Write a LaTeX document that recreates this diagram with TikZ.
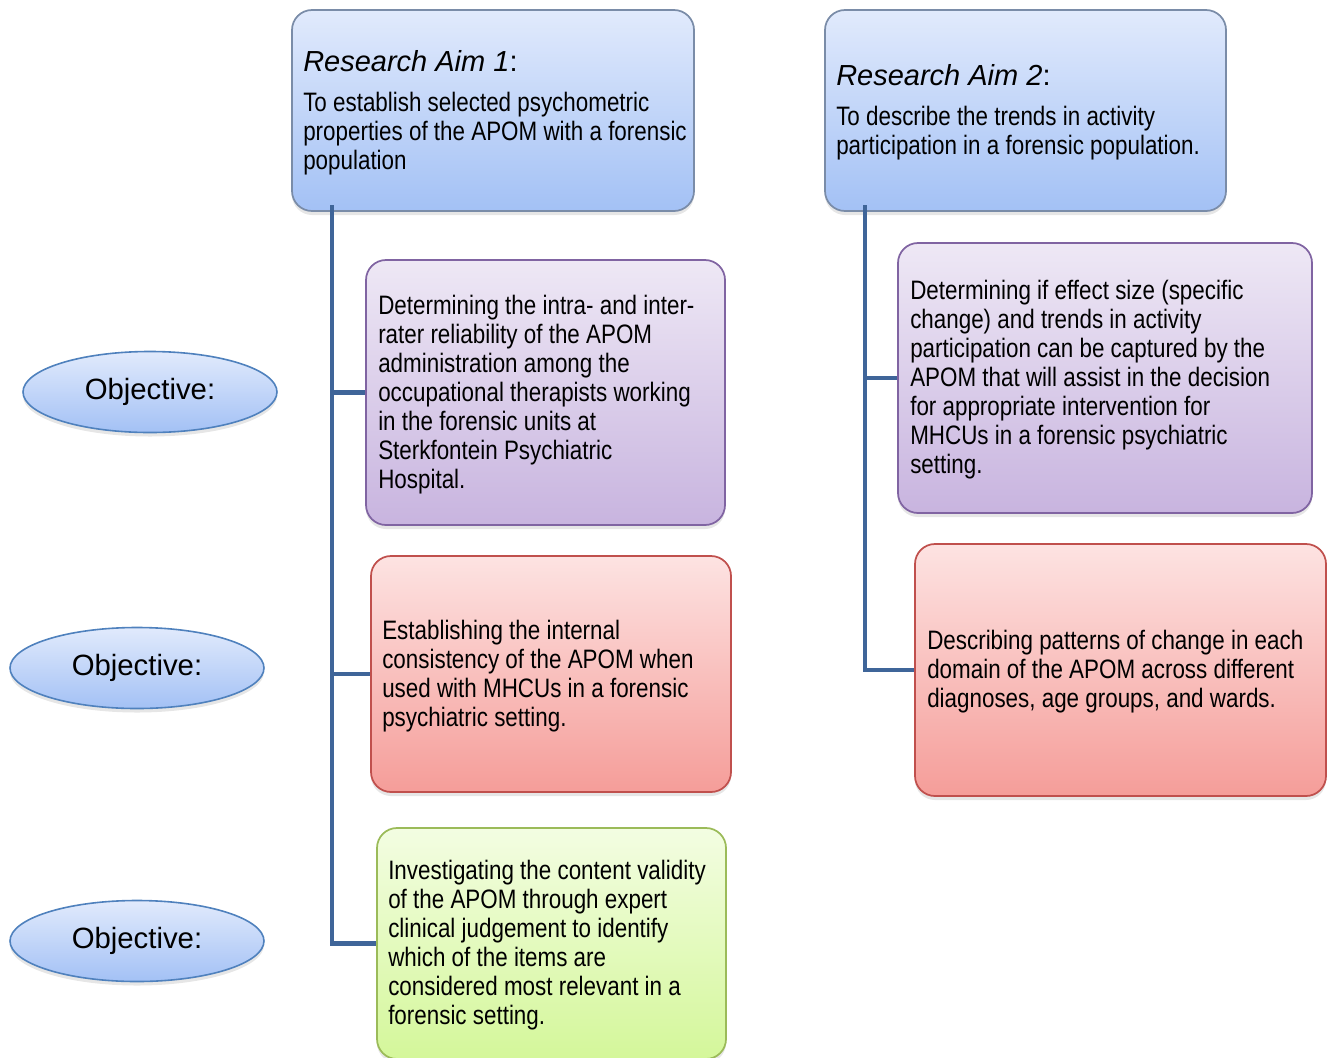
\documentclass[tikz,border=0pt]{standalone}
\usepackage{fontspec}
\setmainfont{Liberation Sans}
\newfontfamily\narrowfont[FakeStretch=0.84]{Liberation Sans}
\usetikzlibrary{shadows,shapes.geometric}
\definecolor{bluetop}{RGB}{225,234,252}
\definecolor{bluebot}{RGB}{163,193,245}
\definecolor{blueline}{RGB}{79,129,189}
\definecolor{aimline}{RGB}{122,140,168}
\definecolor{purptop}{RGB}{238,232,245}
\definecolor{purpbot}{RGB}{200,180,223}
\definecolor{purpline}{RGB}{128,100,162}
\definecolor{redtop}{RGB}{253,227,226}
\definecolor{redbot}{RGB}{245,157,153}
\definecolor{redline}{RGB}{192,80,77}
\definecolor{greentop}{RGB}{243,253,226}
\definecolor{greenbot}{RGB}{212,247,154}
\definecolor{greenline}{RGB}{155,187,89}
\definecolor{trunk}{RGB}{63,101,153}
\begin{document}
\begin{tikzpicture}[x=0.75pt,y=-0.75pt,
  box/.style={rectangle, rounded corners=15pt, line width=1.3pt, inner sep=0pt,
    drop shadow={shadow xshift=0pt, shadow yshift=-3pt, opacity=0.2}},
  aimbox/.style={box, draw=aimline, top color=bluetop, bottom color=bluebot},
  purpbox/.style={box, draw=purpline, top color=purptop, bottom color=purpbot},
  redbox/.style={box, draw=redline, top color=redtop, bottom color=redbot},
  greenbox/.style={box, draw=greenline, top color=greentop, bottom color=greenbot},
  objell/.style={ellipse, draw=blueline, line width=1.2pt, top color=bluetop, bottom color=bluebot,
    minimum width=190.5pt, minimum height=60.75pt, inner sep=0pt,
    font=\fontsize{22}{26}\selectfont,
    drop shadow={shadow xshift=0pt, shadow yshift=-3pt, opacity=0.2}},
  txt/.style={anchor=west, align=left, inner sep=0pt, font=\narrowfont\fontsize{20}{21.75}\selectfont},
  conn/.style={draw=trunk, line width=3.6pt}
]
\useasboundingbox (0,0) rectangle (1328,1057);

\coordinate (t1) at (332,205);
\coordinate (t2) at (865,205);

% boxes
\node[aimbox, minimum width=301.5pt, minimum height=150.75pt] (aim1) at (493,110.5) {};
\node[aimbox, minimum width=300.75pt, minimum height=150.75pt] (aim2) at (1025.5,110.5) {};
\node[purpbox, minimum width=269.25pt, minimum height=198.75pt] (obj1) at (545.5,392.5) {};
\node[redbox, minimum width=270pt, minimum height=177pt] (obj2) at (551,674) {};
\node[greenbox, minimum width=261.75pt, minimum height=173.25pt] (obj3) at (551.5,943.5) {};
\node[purpbox, minimum width=310.5pt, minimum height=202.5pt] (obj4) at (1105,378) {};
\node[redbox, minimum width=308.25pt, minimum height=189pt] (obj5) at (1120.5,670) {};

% connectors
\draw[conn] (t1) |- (obj3.west);
\draw[conn] (t1 |- obj1.west) -- (obj1.west);
\draw[conn] (t1 |- obj2.west) -- (obj2.west);
\draw[conn] (t2) |- (obj5.west);
\draw[conn] (t2 |- obj4.west) -- (obj4.west);

% ellipses
\node[objell] (e1) at (150,392) {Objective:};
\node[objell] (e2) at (137,668) {Objective:};
\node[objell] (e3) at (137,941) {Objective:};

% texts
\node[txt] (aim1t) at (303,112.5) {{\rmfamily\fontsize{21.75}{26}\selectfont\itshape Research Aim 1\upshape:}\\[8pt]
To establish selected psychometric\\
properties of the APOM with a forensic\\
population};
\node[txt] (aim2t) at (836,112) {{\rmfamily\fontsize{21.75}{26}\selectfont\itshape Research Aim 2\upshape:}\\[8pt]
To describe the trends in activity\\
participation in a forensic population.};
\node[txt] (obj1t) at (378,394.5) {Determining the intra- and inter-\\
rater reliability of the APOM\\
administration among the\\
occupational therapists working\\
in the forensic units at\\
Sterkfontein Psychiatric\\
Hospital.};
\node[txt] (obj2t) at (382,676) {Establishing the internal\\
consistency of the APOM when\\
used with MHCUs in a forensic\\
psychiatric setting.};
\node[txt] (obj3t) at (388,945.5) {Investigating the content validity\\
of the APOM through expert\\
clinical judgement to identify\\
which of the items are\\
considered most relevant in a\\
forensic setting.};
\node[txt] (obj4t) at (910,380) {Determining if effect size (specific\\
change) and trends in activity\\
participation can be captured by the\\
APOM that will assist in the decision\\
for appropriate intervention for\\
MHCUs in a forensic psychiatric\\
setting.};
\node[txt] (obj5t) at (927,672) {Describing patterns of change in each\\
domain of the APOM across different\\
diagnoses, age groups, and wards.};
\end{tikzpicture}
\end{document}
